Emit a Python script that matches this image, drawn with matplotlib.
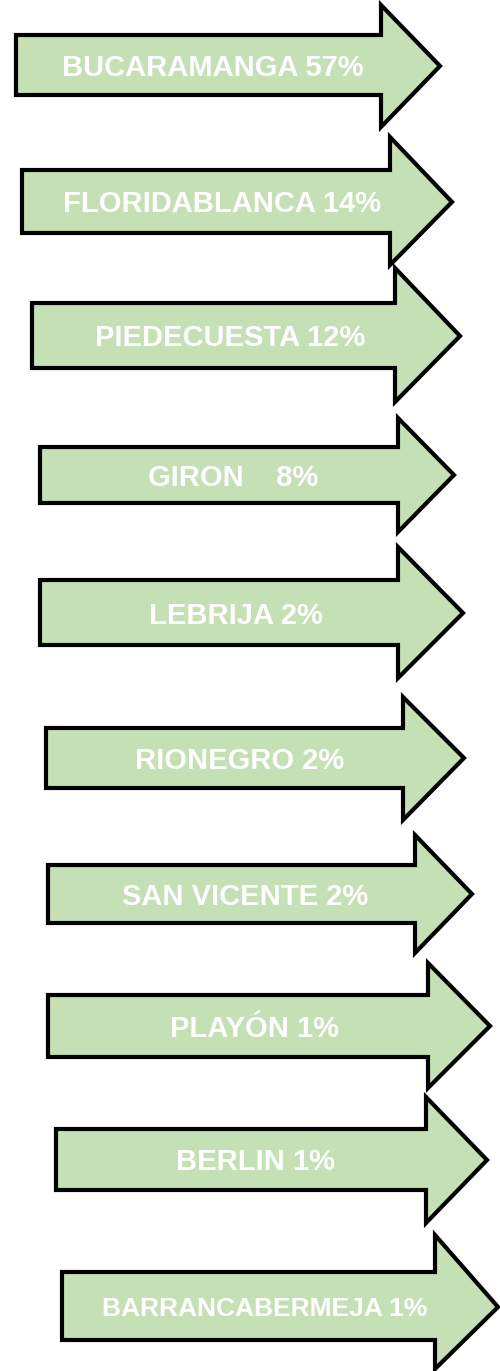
import matplotlib
matplotlib.use("Agg")
import matplotlib.pyplot as plt
from matplotlib.patches import Polygon

# data
cities = ["BUCARAMANGA", "FLORIDABLANCA", "PIEDECUESTA", "GIRON   ", "LEBRIJA",
          "RIONEGRO", "SAN VICENTE", "PLAYÓN", "BERLIN", "BARRANCABERMEJA"]
percents = [57, 14, 12, 8, 2, 2, 2, 1, 1, 1]

# layout of each arrow (pixels): body left, body top, body bottom,
# head base x, head top, head bottom, tip x, tip y
body_left = [16, 22, 32, 40, 40, 46, 48, 48, 56, 62]
body_top = [35, 170, 303, 447, 580, 728, 865, 995, 1129, 1272]
body_bottom = [95, 233, 368, 503, 645, 788, 923, 1057, 1190, 1340]
head_base = [381, 390, 395, 398, 398, 403, 415, 428, 426, 435]
head_top = [5, 137, 268, 418, 547, 697, 835, 963, 1097, 1235]
head_bottom = [127, 265, 402, 532, 678, 820, 953, 1088, 1223, 1369]
tip_x = [440, 452, 460, 454, 463, 464, 472, 490, 487, 498]
tip_y = [66, 202, 336, 475, 613, 758, 894, 1026, 1160, 1307]
text_x = [213, 222, 230, 233, 236, 240, 245, 254, 256, 265]
text_size = [21, 21, 21, 21, 21, 21, 21, 21, 21, 19]

fill_color = "#C5E0B4"

fig = plt.figure(figsize=(5, 13.71), dpi=100)
ax = fig.add_axes([0, 0, 1, 1])
ax.set_xlim(0, 500)
ax.set_ylim(1371, 0)
ax.axis("off")

for i in range(len(cities)):
    pts = [(body_left[i], body_top[i]),
           (head_base[i], body_top[i]),
           (head_base[i], head_top[i]),
           (tip_x[i], tip_y[i]),
           (head_base[i], head_bottom[i]),
           (head_base[i], body_bottom[i]),
           (body_left[i], body_bottom[i])]
    ax.add_patch(Polygon(pts, closed=True, facecolor=fill_color,
                         edgecolor="black", linewidth=3, joinstyle="miter"))
    label = "{} {}%".format(cities[i], percents[i])
    ax.text(text_x[i], (body_top[i] + body_bottom[i]) / 2 + 3, label,
            ha="center", va="center", color="white", fontsize=text_size[i],
            fontweight="bold", family=["Liberation Sans", "DejaVu Sans"])

fig.savefig("out.png", dpi=100)
